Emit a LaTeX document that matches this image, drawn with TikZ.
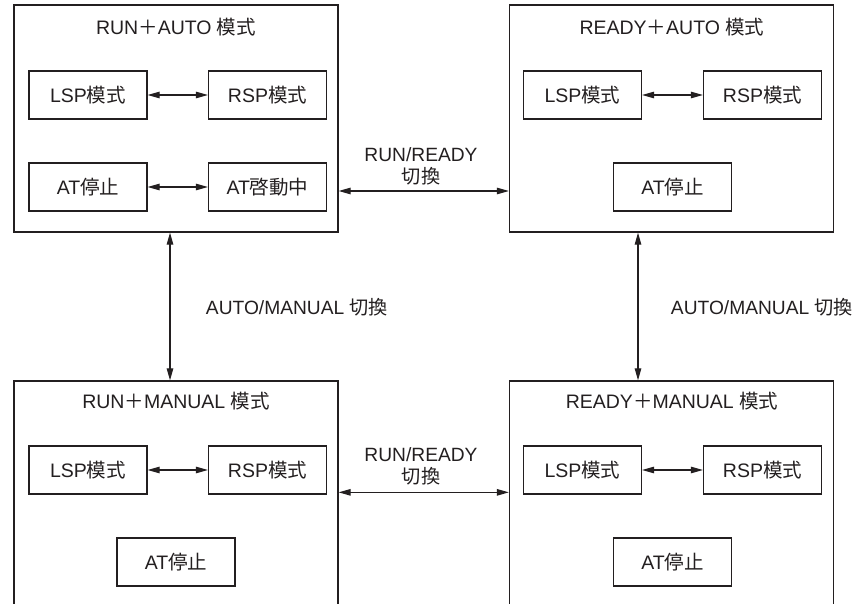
\documentclass[tikz,border=0pt]{standalone}
\usepackage{fontspec}
\setmainfont{Liberation Sans}
\newfontfamily\cjk{Noto Sans CJK JP}
\usetikzlibrary{arrows.meta,calc}
\definecolor{ink}{HTML}{231F20}

\begin{document}
\begin{tikzpicture}[x=1pt,y=-1pt,
  frame/.style={draw=ink, line width=1.3pt, minimum width=324pt, inner sep=0pt},
  modebox/.style={draw=ink, line width=1.2pt, minimum width=118pt, minimum height=48pt,
    inner sep=0pt, text=ink, font=\fontsize{19.5}{21}\selectfont},
  title/.style={text=ink, font=\fontsize{19.5}{21}\selectfont, inner sep=0pt},
  lbl/.style={text=ink, font=\fontsize{19.2}{22}\selectfont, align=center, inner sep=0pt},
  arr/.style={{Triangle[length=12pt,width=6.5pt]}-{Triangle[length=12pt,width=6.5pt]},
    draw=ink, line width=1.1pt}]

\useasboundingbox (0,0) rectangle (862,604);
\clip (0,0) rectangle (862,604);

% operating-mode frames
\node[frame, minimum height=227pt] (TL) at (176,118.5) {};
\node[frame, minimum height=227pt] (TR) at (671.5,118.5) {};
\node[frame, minimum height=260pt] (BL) at (176,511) {};
\node[frame, minimum height=260pt] (BR) at (671.5,511) {};

% frame titles
\node[title] (tTL) at (176,27) {RUN{\cjk ＋}AUTO {\cjk 模式}};
\node[title] (tTR) at (672,27) {READY{\cjk ＋}AUTO {\cjk 模式}};
\node[title] (tBL) at (176,401) {RUN{\cjk ＋}MANUAL {\cjk 模式}};
\node[title] (tBR) at (672,401) {READY{\cjk ＋}MANUAL {\cjk 模式}};

% RUN + AUTO
\node[modebox] (l1) at (88,95) {LSP{\cjk 模式}};
\node[modebox] (r1) at (267.5,95) {RSP{\cjk 模式}};
\node[modebox] (s1) at (88,187) {AT{\cjk 停止}};
\node[modebox] (a1) at (267.5,187) {AT{\cjk 啓動中}};
\draw[arr] (l1) -- (r1);
\draw[arr] (s1) -- (a1);

% READY + AUTO
\node[modebox] (l2) at (582.5,95) {LSP{\cjk 模式}};
\node[modebox] (r2) at (762.5,95) {RSP{\cjk 模式}};
\node[modebox] (s2) at (672.5,187) {AT{\cjk 停止}};
\draw[arr] (l2) -- (r2);

% RUN + MANUAL
\node[modebox] (l3) at (88,470) {LSP{\cjk 模式}};
\node[modebox] (r3) at (267.5,470) {RSP{\cjk 模式}};
\node[modebox] (s3) at (176,562) {AT{\cjk 停止}};
\draw[arr] (l3) -- (r3);

% READY + MANUAL
\node[modebox] (l4) at (582.5,470) {LSP{\cjk 模式}};
\node[modebox] (r4) at (762.5,470) {RSP{\cjk 模式}};
\node[modebox] (s4) at (672.5,562) {AT{\cjk 停止}};
\draw[arr] (l4) -- (r4);

% transitions between frames
\draw[arr] ([yshift=-72.5pt]TL.east) -- ([yshift=-72.5pt]TR.west);
\draw[arr] ([yshift=-112pt]BL.north east) -- ([yshift=-112pt]BR.north west);
\draw[arr] ([xshift=-6pt]TL.south) -- ([xshift=-6pt]BL.north);
\draw[arr] ([xshift=-33.5pt]TR.south) -- ([xshift=-33.5pt]BR.north);

% transition labels
\node[lbl] (k1) at (421,166) {RUN/READY\\{\cjk 切換}};
\node[lbl] (k2) at (421,466) {RUN/READY\\{\cjk 切換}};
\node[lbl] (k3) at (297,307) {AUTO/MANUAL {\cjk 切換}};
\node[lbl] (k4) at (762,307) {AUTO/MANUAL {\cjk 切換}};
\end{tikzpicture}
\end{document}
